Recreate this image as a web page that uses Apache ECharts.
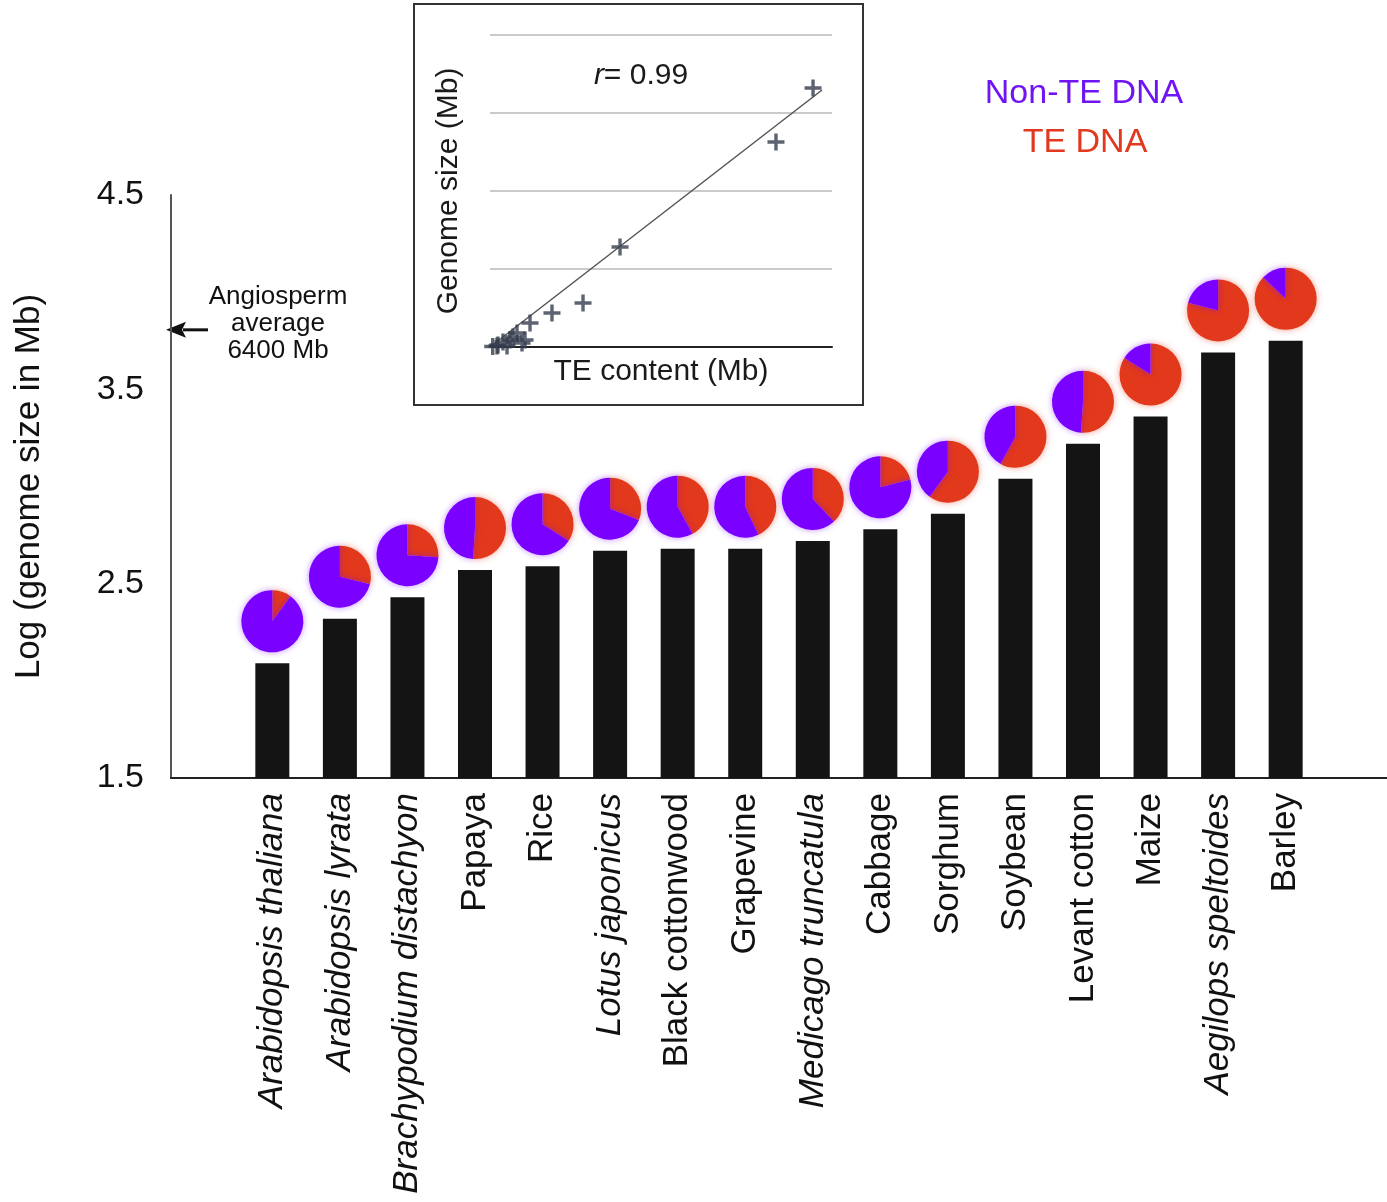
<!DOCTYPE html>
<html>
<head>
<meta charset="utf-8">
<title>Genome size and TE content</title>
<script src="https://cdn.jsdelivr.net/npm/echarts@6/dist/echarts.min.js"></script>
<style>
  html, body { margin: 0; padding: 0; background: #fff; }
  #chart { width: 1387px; height: 1202px; }
</style>
</head>
<body>
<div id="chart"></div>
<script>
// Species, ordered by genome size
const categories = [
  'Arabidopsis thaliana', 'Arabidopsis lyrata', 'Brachypodium distachyon', 'Papaya',
  'Rice', 'Lotus japonicus', 'Black cottonwood', 'Grapevine', 'Medicago truncatula',
  'Cabbage', 'Sorghum', 'Soybean', 'Levant cotton', 'Maize', 'Aegilops speltoides', 'Barley'
];
// Latin binomials are set in italics
const italicNames = [true, true, true, false, false, true, false, false, true,
  false, false, false, false, false, true, false];
// log10(genome size in Mb)
const logGenomeSize = [2.09, 2.32, 2.43, 2.57, 2.59, 2.67, 2.68, 2.68, 2.72,
  2.78, 2.86, 3.04, 3.22, 3.36, 3.69, 3.75];
// Fraction of each genome made of transposable elements
const teFraction = [0.10, 0.29, 0.26, 0.51, 0.34, 0.31, 0.42, 0.43, 0.38,
  0.21, 0.60, 0.58, 0.51, 0.84, 0.79, 0.87];
// Angiosperm average genome size (Mb)
const angiospermAverage = 6400;

// Inset: TE content vs genome size (Mb)
const insetTE = [4723, 4181, 1901, 1360, 906, 585, 512, 468, 395, 336, 292, 190, 117, 102, 40, 249];
const insetGenome = [4981, 3942, 1923, 846, 654, 462, 135, 77, 269, 192, 135, 96, 38, 20, 10, 19];
const fitLine = [[0, 0], [4854, 4942]];
const correlation = '0.99';

const PURPLE = '#7a00ff';
const RED = '#e2381b';
const FONT = '"Liberation Sans", Arial, Helvetica, sans-serif';

// Padded category list leaves an empty slot on both ends of the axis
const paddedCats = [''].concat(categories, ['']);
const barData = ['-'].concat(logGenomeSize, ['-']);
const pieData = categories.map((n, i) => [i + 1, logGenomeSize[i], teFraction[i]]);
const scatterData = insetTE.map((x, i) => [x, insetGenome[i]]);

const PLUS = 'path://M4,0h2v4h4v2h-4v4h-2v-4h-4v-2h4z';

function renderPie(params, api) {
  const c = api.coord([api.value(0), api.value(1)]);
  const cx = c[0];
  const cy = c[1] - 42;
  const r = 31;
  const te = api.value(2);
  const a0 = -Math.PI / 2;
  const a1 = a0 + te * 2 * Math.PI;
  const a2 = a0 + 2 * Math.PI;
  return {
    type: 'group',
    children: [
      {
        type: 'sector',
        shape: { cx, cy, r0: 0, r, startAngle: a0, endAngle: a1, clockwise: true },
        style: { fill: RED, shadowBlur: 6, shadowColor: 'rgba(226,56,27,0.5)' }
      },
      {
        type: 'sector',
        shape: { cx, cy, r0: 0, r, startAngle: a1, endAngle: a2, clockwise: true },
        style: { fill: PURPLE, shadowBlur: 6, shadowColor: 'rgba(122,0,255,0.45)' }
      }
    ]
  };
}

const chart = echarts.init(document.getElementById('chart'), null, { renderer: 'canvas' });

const option = {
  backgroundColor: '#ffffff',
  animation: false,
  textStyle: { fontFamily: FONT },
  grid: [
    { left: 171, right: 0, top: 195, bottom: 424, containLabel: false },
    { left: 490, top: 35, width: 342, height: 312, containLabel: false }
  ],
  xAxis: [
    {
      type: 'category',
      gridIndex: 0,
      data: paddedCats,
      boundaryGap: true,
      axisLine: { show: true, lineStyle: { color: '#222', width: 2 } },
      axisTick: { show: false },
      axisLabel: {
        interval: 0,
        rotate: 90,
        margin: 15,
        fontSize: 35,
        color: '#111',
        fontFamily: FONT,
        formatter: function (v) {
          if (!v) return '';
          const i = categories.indexOf(v);
          return italicNames[i] ? '{it|' + v + '}' : '{rm|' + v + '}';
        },
        rich: {
          it: { fontStyle: 'italic', fontSize: 35, color: '#111', fontFamily: FONT },
          rm: { fontSize: 35, color: '#111', fontFamily: FONT }
        }
      },
      splitLine: { show: false }
    },
    {
      type: 'value',
      gridIndex: 1,
      min: 0,
      max: 5000,
      name: 'TE content (Mb)',
      nameLocation: 'middle',
      nameGap: 10,
      nameTextStyle: { fontSize: 30, color: '#1a1a1a', fontFamily: FONT },
      axisLine: { show: true, onZero: false, lineStyle: { color: '#222', width: 2 } },
      axisTick: { show: false },
      axisLabel: { show: false },
      splitLine: { show: false }
    }
  ],
  yAxis: [
    {
      type: 'value',
      gridIndex: 0,
      min: 1.5,
      max: 4.5,
      interval: 1,
      name: 'Log (genome size in Mb)',
      nameLocation: 'middle',
      nameGap: 124,
      nameTextStyle: { fontSize: 35, color: '#111', fontFamily: FONT },
      axisLine: { show: true, lineStyle: { color: '#555', width: 2 } },
      axisTick: { show: false },
      axisLabel: {
        fontSize: 34,
        color: '#111',
        margin: 27,
        fontFamily: FONT,
        formatter: v => v.toFixed(1)
      },
      splitLine: { show: false }
    },
    {
      type: 'value',
      gridIndex: 1,
      min: 0,
      max: 6000,
      interval: 1500,
      name: 'Genome size (Mb)',
      nameLocation: 'middle',
      nameGap: 26,
      nameTextStyle: { fontSize: 30, color: '#1a1a1a', fontFamily: FONT, padding: [0, 0, 0, 0] },
      axisLine: { show: false },
      axisTick: { show: false },
      axisLabel: { show: false },
      splitLine: { show: true, lineStyle: { color: '#b9b9b9', width: 1.5 } }
    }
  ],
  series: [
    {
      name: 'Genome size',
      type: 'bar',
      xAxisIndex: 0,
      yAxisIndex: 0,
      data: barData,
      barWidth: 34,
      itemStyle: { color: '#141414' },
      z: 2
    },
    {
      name: 'TE share',
      type: 'custom',
      xAxisIndex: 0,
      yAxisIndex: 0,
      data: pieData,
      encode: { x: 0, y: 1 },
      renderItem: renderPie,
      clip: false,
      z: 3
    },
    {
      name: 'Fit',
      type: 'line',
      xAxisIndex: 1,
      yAxisIndex: 1,
      data: fitLine,
      symbol: 'none',
      lineStyle: { color: '#555', width: 1.5 },
      z: 3
    },
    {
      name: 'Species',
      type: 'scatter',
      xAxisIndex: 1,
      yAxisIndex: 1,
      data: scatterData,
      symbol: PLUS,
      symbolSize: 17,
      itemStyle: { color: '#353c4c' },
      z: 4
    }
  ]
};

chart.setOption(option);

// Annotation and text overlays placed after the axes are laid out
const avgY = chart.convertToPixel({ yAxisIndex: 0 }, Math.log10(angiospermAverage));
const gridLeft = 171;

chart.setOption({
  graphic: [
    // inset frame
    {
      type: 'rect',
      shape: { x: 414, y: 4, width: 449, height: 401 },
      style: { fill: 'none', stroke: '#333', lineWidth: 2 },
      z: 1
    },
    {
      type: 'text',
      style: {
        x: 641, y: 76,
        text: '{r|r}= ' + correlation,
        align: 'center', verticalAlign: 'middle',
        fontSize: 30, fill: '#1a1a1a', fontFamily: FONT,
        rich: { r: { fontStyle: 'italic', fontSize: 30, fill: '#1a1a1a', fontFamily: FONT } }
      },
      z: 10
    },
    // colour key
    {
      type: 'text',
      style: {
        x: 1084, y: 94, text: 'Non-TE DNA', align: 'center', verticalAlign: 'middle',
        fontSize: 34, fill: '#6f14f2', fontFamily: FONT
      }
    },
    {
      type: 'text',
      style: {
        x: 1085, y: 143, text: 'TE DNA', align: 'center', verticalAlign: 'middle',
        fontSize: 34, fill: '#e0391f', fontFamily: FONT
      }
    },
    // angiosperm average marker
    {
      type: 'text',
      style: {
        x: 278, y: avgY - 47,
        text: 'Angiosperm\naverage\n6400 Mb',
        align: 'center', verticalAlign: 'top',
        fontSize: 26, lineHeight: 27, fill: '#111', fontFamily: FONT
      }
    },
    {
      type: 'line',
      shape: { x1: gridLeft + 12, y1: avgY, x2: gridLeft + 37, y2: avgY },
      style: { stroke: '#111', lineWidth: 3 }
    },
    {
      type: 'polygon',
      shape: { points: [[gridLeft - 5, avgY], [gridLeft + 15, avgY - 8], [gridLeft + 11, avgY], [gridLeft + 15, avgY + 8]] },
      style: { fill: '#111' }
    }
  ]
});
</script>
</body>
</html>
